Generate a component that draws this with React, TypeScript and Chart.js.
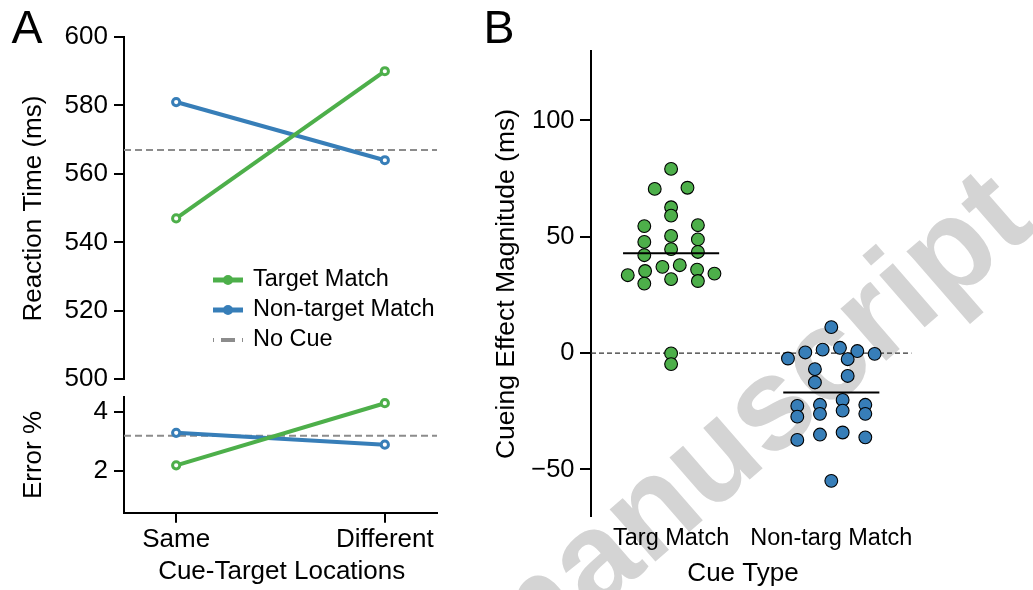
import React, { useEffect, useRef } from 'react';
import { Chart, registerables } from 'chart.js';

Chart.register(...registerables);

const FONT = "'Liberation Sans', Arial, Helvetica, sans-serif";
const GREEN = '#4DAF4A';
const BLUE = '#377EB8';
const NOCUE_GRAY = '#8C8C8C';

// ---- Panel A: reaction time and error rate by cue-target location ----
const locations = ['Same', 'Different'];
const rtTargetMatch = [547, 590];
const rtNonTargetMatch = [581, 564];
const rtNoCue = 567;
const rtTicks = [500, 520, 540, 560, 580, 600];

const errTargetMatch = [2.2, 4.3];
const errNonTargetMatch = [3.3, 2.9];
const errNoCue = 3.2;
const errTicks = [2, 4];

// ---- Panel B: per-participant cueing effects ----
const cueTypes = ['Targ Match', 'Non-targ Match'];
const targMatchEffects = [
  79.2, 70.6, 71.1, 62.7, 59.1, 54.6, 55.0, 50.4, 47.8, 48.9, 44.7, 42.1,
  43.5, 37.1, 37.8, 33.5, 34.2, 35.3, 35.9, 31.8, 29.9, 31.0, -0.1, -4.7,
];
const nonTargMatchEffects = [
  11.2, -2.3, 0.3, 1.5, 2.3, 0.9, -0.3, -2.6, -6.9, -9.8, -12.6, -20.1,
  -22.2, -22.2, -24.7, -22.7, -27.3, -26.1, -26.1, -37.3, -35.0, -34.1, -36.2, -54.9,
];
const effectTicks = [-50, 0, 50, 100];

// swarm layout: values are grouped into rows of fixed height, and each row is
// spread sideways (lowest values outermost, alternating left / right)
const ROW_HEIGHT = 7;
const ROW_ORIGIN = -2.5;
const ROW_SPREAD = 0.92;

function swarm(values: number[], center: number) {
  const rows = new Map<number, number[]>();
  values.forEach((v, i) => {
    const r = Math.floor((v - ROW_ORIGIN) / ROW_HEIGHT);
    if (!rows.has(r)) rows.set(r, []);
    rows.get(r)!.push(i);
  });
  const xs: number[] = new Array(values.length).fill(center);
  rows.forEach((idx) => {
    idx.sort((a, b) => values[a] - values[b]);
    const n = idx.length;
    const step = ROW_SPREAD / (n + 2.5);
    const slots = Array.from({ length: n }, (_, k) => (k - (n - 1) / 2) * step);
    let lo = 0;
    let hi = n - 1;
    idx.forEach((pi, k) => {
      xs[pi] = center + (k % 2 === 0 ? slots[lo++] : slots[hi--]);
    });
  });
  return values.map((v, i) => ({ x: xs[i], y: v }));
}

const mean = (a: number[]) => a.reduce((s, v) => s + v, 0) / a.length;

function drawText(ctx: any, str: string, x: number, y: number, size: number, opts: any = {}) {
  ctx.save();
  ctx.translate(x, y);
  if (opts.rotate) ctx.rotate(opts.rotate);
  ctx.font = `${opts.weight || 'normal'} ${size}px ${FONT}`;
  ctx.fillStyle = opts.color || '#000';
  ctx.textAlign = opts.align || 'center';
  ctx.textBaseline = opts.baseline || 'middle';
  ctx.fillText(str, 0, 0);
  ctx.restore();
}

// horizontal dashed reference line across the plot area
function refLine(value: number, color: string, width: number, dash: number[]) {
  return {
    id: 'refLine',
    beforeDatasetsDraw(chart: any) {
      const { ctx, chartArea } = chart;
      const y = chart.scales.y.getPixelForValue(value);
      ctx.save();
      ctx.strokeStyle = color;
      ctx.lineWidth = width;
      ctx.setLineDash(dash);
      ctx.beginPath();
      ctx.moveTo(chartArea.left, y);
      ctx.lineTo(chartArea.right, y);
      ctx.stroke();
      ctx.restore();
    },
  };
}

const lineSeries = (label: string, values: number[], color: string) => ({
  label,
  data: values.map((v, i) => ({ x: i, y: v })),
  borderColor: color,
  backgroundColor: color,
  borderWidth: 4,
  pointRadius: 3.6,
  pointBorderWidth: 3,
  pointBorderColor: color,
  pointBackgroundColor: '#ffffff',
  clip: false,
});

const axisY = (min: number, max: number, ticks: number[], width: number, fontSize: number, pad: number, tickLen: number, fmt?: (v: number) => string) => ({
  type: 'linear',
  min,
  max,
  afterBuildTicks: (s: any) => {
    s.ticks = ticks.map((value) => ({ value }));
  },
  afterFit: (s: any) => {
    s.width = width;
    // the plot edges are set by the layout padding alone
    s.paddingTop = 0;
    s.paddingBottom = 0;
  },
  ticks: {
    color: '#000',
    padding: pad,
    font: { size: fontSize, family: FONT },
    callback: fmt || ((v: number) => String(v)),
  },
  grid: { drawOnChartArea: false, drawTicks: true, tickLength: tickLen, color: '#000', lineWidth: 2 },
  border: { display: true, color: '#000', width: 2 },
});

export default function App() {
  const topRef = useRef<HTMLCanvasElement>(null);
  const errRef = useRef<HTMLCanvasElement>(null);
  const bRef = useRef<HTMLCanvasElement>(null);

  useEffect(() => {
    Chart.defaults.font.family = FONT;

    const legendPlugin = {
      id: 'legendA',
      afterDraw(chart: any) {
        const { ctx, chartArea } = chart;
        const x0 = chartArea.left + 89;
        const x1 = x0 + 30;
        const textX = x0 + 40;
        const rows = [
          { label: chart.data.datasets[0].label, color: GREEN, dashed: false },
          { label: chart.data.datasets[1].label, color: BLUE, dashed: false },
          { label: 'No Cue', color: NOCUE_GRAY, dashed: true },
        ];
        rows.forEach((r, i) => {
          const y = chartArea.top + 243 + i * 30;
          ctx.save();
          ctx.strokeStyle = r.color;
          ctx.lineWidth = r.dashed ? 4 : 5;
          if (r.dashed) {
            ctx.setLineDash([14, 7]);
            ctx.lineDashOffset = 13;
          }
          ctx.beginPath();
          ctx.moveTo(x0, y);
          ctx.lineTo(x1, y);
          ctx.stroke();
          if (!r.dashed) {
            ctx.fillStyle = r.color;
            ctx.beginPath();
            ctx.arc((x0 + x1) / 2, y, 5, 0, Math.PI * 2);
            ctx.fill();
          }
          ctx.restore();
          drawText(ctx, r.label, textX, y, 23.5, { align: 'left' });
        });
      },
    };

    const topLabels = {
      id: 'topLabels',
      afterDraw(chart: any) {
        const { ctx } = chart;
        drawText(ctx, 'A', 11.5, 43.3, 46.5, { align: 'left', baseline: 'alphabetic' });
        drawText(ctx, 'Reaction Time (ms)', 34, 208.5, 26, { rotate: -Math.PI / 2 });
      },
    };

    const rtChart = new Chart(topRef.current!, {
      type: 'line',
      data: {
        datasets: [
          lineSeries('Target Match', rtTargetMatch, GREEN),
          lineSeries('Non-target Match', rtNonTargetMatch, BLUE),
        ],
      },
      options: {
        responsive: false,
        animation: false,
        devicePixelRatio: 1,
        layout: { padding: { left: 0, top: 37, right: 13, bottom: 10.7 } },
        plugins: { legend: { display: false }, tooltip: { enabled: false } },
        scales: {
          x: { type: 'linear', min: -0.25, max: 1.25, display: false },
          y: axisY(500, 600, rtTicks, 124, 26, 6, 10),
        },
      } as any,
      plugins: [refLine(rtNoCue, NOCUE_GRAY, 2, [7, 4]), legendPlugin, topLabels],
    });

    const errLabels = {
      id: 'errLabels',
      afterDraw(chart: any) {
        const { ctx } = chart;
        drawText(ctx, 'Error %', 34, 65, 26, { rotate: -Math.PI / 2 });
        drawText(ctx, 'Cue-Target Locations', 281.7, 182, 26);
      },
    };

    const errChart = new Chart(errRef.current!, {
      type: 'line',
      data: {
        datasets: [
          lineSeries('Target Match', errTargetMatch, GREEN),
          lineSeries('Non-target Match', errNonTargetMatch, BLUE),
        ],
      },
      options: {
        responsive: false,
        animation: false,
        devicePixelRatio: 1,
        layout: { padding: { left: 0, top: 7.3, right: 13, bottom: 0 } },
        plugins: { legend: { display: false }, tooltip: { enabled: false } },
        scales: {
          x: {
            type: 'linear',
            min: -0.25,
            max: 1.25,
            afterBuildTicks: (s: any) => {
              s.ticks = locations.map((_, i) => ({ value: i }));
            },
            afterFit: (s: any) => {
              s.height = 77.3;
            },
            ticks: {
              color: '#000',
              padding: 1.5,
              maxRotation: 0,
              autoSkip: false,
              font: { size: 26, family: FONT },
              callback: (v: number) => locations[Math.round(v)],
            },
            grid: { drawOnChartArea: false, drawTicks: true, tickLength: 10, color: '#000', lineWidth: 2 },
            border: { display: true, color: '#000', width: 2 },
          },
          y: axisY(0.6, 4.5, errTicks, 124, 26, 6, 10),
        },
      } as any,
      plugins: [refLine(errNoCue, NOCUE_GRAY, 2, [7, 4]), errLabels],
    });

    const watermark = {
      id: 'watermark',
      beforeDraw(chart: any) {
        const { ctx } = chart;
        drawText(ctx, 'manuscript', 322, 460, 131, {
          rotate: (-41 * Math.PI) / 180,
          weight: 'bold',
          color: '#D4D4D4',
          baseline: 'alphabetic',
        });
      },
    };

    const meanLines = {
      id: 'meanLines',
      afterDatasetsDraw(chart: any) {
        const { ctx, scales } = chart;
        [targMatchEffects, nonTargMatchEffects].forEach((vals, i) => {
          const y = scales.y.getPixelForValue(mean(vals));
          ctx.save();
          ctx.strokeStyle = '#000';
          ctx.lineWidth = 2;
          ctx.beginPath();
          ctx.moveTo(scales.x.getPixelForValue(i + 1 - 0.3), y);
          ctx.lineTo(scales.x.getPixelForValue(i + 1 + 0.3), y);
          ctx.stroke();
          ctx.restore();
        });
      },
    };

    const bLabels = {
      id: 'bLabels',
      afterDraw(chart: any) {
        const { ctx } = chart;
        drawText(ctx, 'B', 33.5, 43.3, 46.5, { align: 'left', baseline: 'alphabetic' });
        drawText(ctx, 'Cueing Effect Magnitude (ms)', 56.5, 284, 26.5, { rotate: -Math.PI / 2 });
        drawText(ctx, 'Cue Type', 293, 574, 26);
      },
    };

    const swarmSeries = (label: string, values: number[], center: number, color: string) => ({
      label,
      data: swarm(values, center),
      backgroundColor: color,
      borderColor: '#000',
      borderWidth: 1.1,
      pointRadius: 6.4,
      clip: false,
    });

    const bChart = new Chart(bRef.current!, {
      type: 'scatter',
      data: {
        datasets: [
          swarmSeries(cueTypes[0], targMatchEffects, 1, GREEN),
          swarmSeries(cueTypes[1], nonTargMatchEffects, 2, BLUE),
        ],
      },
      options: {
        responsive: false,
        animation: false,
        devicePixelRatio: 1,
        layout: { padding: { left: 0, top: 50.7, right: 121.6, bottom: 0 } },
        plugins: { legend: { display: false }, tooltip: { enabled: false } },
        scales: {
          x: {
            type: 'linear',
            min: 0.5,
            max: 2.5,
            afterBuildTicks: (s: any) => {
              s.ticks = cueTypes.map((_, i) => ({ value: i + 1 }));
            },
            afterFit: (s: any) => {
              s.height = 74;
            },
            ticks: {
              color: '#000',
              padding: 0.8,
              maxRotation: 0,
              autoSkip: false,
              font: { size: 23.5, family: FONT },
              callback: (v: number) => cueTypes[Math.round(v) - 1],
            },
            grid: { display: false },
            border: { display: false },
          },
          y: axisY(-70, 130, effectTicks, 141, 25.5, 5.5, 11, (v: number) =>
            v < 0 ? '\u2212' + Math.abs(v) : String(v)
          ),
        },
      } as any,
      plugins: [watermark, refLine(0, '#333333', 1.2, [5, 3]), meanLines, bLabels],
    });

    return () => {
      rtChart.destroy();
      errChart.destroy();
      bChart.destroy();
    };
  }, []);

  const abs = (left: number, top: number): React.CSSProperties => ({
    position: 'absolute',
    left,
    top,
    display: 'block',
  });

  return (
    <div style={{ position: 'fixed', left: 0, top: 0, width: 1033, height: 590, background: '#ffffff', overflow: 'hidden' }}>
      <canvas ref={bRef} width={583} height={590} style={abs(450, 0)} />
      <canvas ref={topRef} width={450} height={390} style={abs(0, 0)} />
      <canvas ref={errRef} width={450} height={200} style={abs(0, 390)} />
    </div>
  );
}
